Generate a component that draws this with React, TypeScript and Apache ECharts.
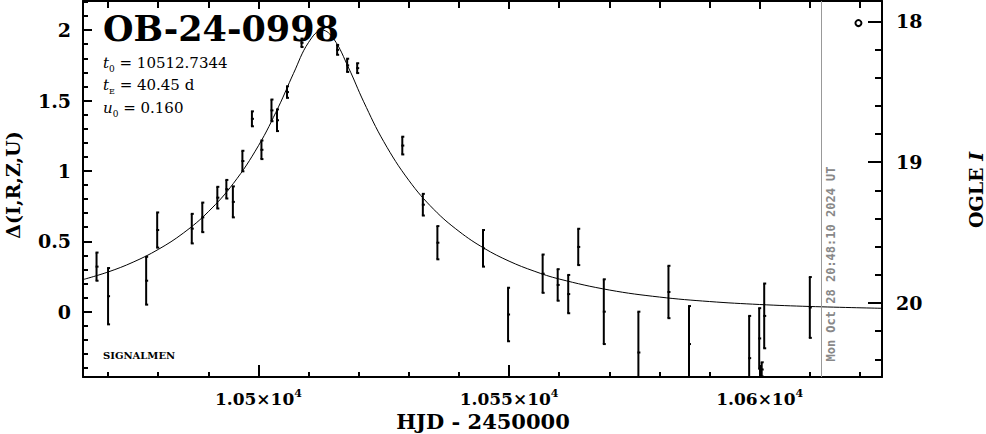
import React, { useEffect, useRef } from 'react';
import * as echarts from 'echarts';

// Photometry (HJD - 2450000, Δ mag, error)
const obsHJD = [
  10467.7, 10470.0, 10477.6, 10479.8, 10486.7, 10488.8, 10491.8, 10493.6, 10494.9, 10496.8,
  10498.7, 10500.6, 10502.6, 10503.7, 10505.7, 10508.6, 10515.7, 10517.7, 10519.7, 10528.7,
  10532.8, 10535.7, 10544.8, 10549.8, 10556.7, 10559.7, 10561.8, 10563.8, 10568.9, 10575.8,
  10581.8, 10585.9, 10597.9, 10599.9, 10600.4, 10600.9, 10610.0,
];
const obsDelta = [
  0.32, 0.11, 0.22, 0.58, 0.59, 0.67, 0.81, 0.87, 0.78, 1.07,
  1.37, 1.15, 1.43, 1.36, 1.56, 1.91, 1.86, 1.75, 1.73, 1.18,
  0.76, 0.49, 0.45, -0.02, 0.27, 0.19, 0.125, 0.46, 0.0, -0.29,
  0.14, -0.23, -0.33, -0.19, -0.41, -0.03, 0.03,
];
const obsErr = [
  0.10, 0.20, 0.17, 0.125, 0.105, 0.105, 0.077, 0.066, 0.11, 0.073,
  0.053, 0.066, 0.077, 0.077, 0.041, 0.03, 0.035, 0.047, 0.035, 0.063,
  0.077, 0.118, 0.13, 0.19, 0.136, 0.112, 0.136, 0.129, 0.23, 0.29,
  0.186, 0.27, 0.30, 0.215, 0.05, 0.23, 0.216,
];

// Model curve values
const modelHJD = [
  10465, 10470, 10475, 10480, 10485, 10490, 10495, 10500, 10504, 10507, 10510, 10512.73,
  10515, 10518, 10521, 10525, 10530, 10535, 10540, 10545, 10550, 10555, 10560, 10570,
  10580, 10590, 10600, 10610, 10624.4,
];
const modelDelta = [
  0.228, 0.282, 0.352, 0.442, 0.558, 0.710, 0.911, 1.179, 1.455, 1.693, 1.913, 2.000,
  1.939, 1.731, 1.491, 1.208, 0.933, 0.726, 0.571, 0.451, 0.359, 0.288, 0.232, 0.154,
  0.104, 0.072, 0.051, 0.037, 0.024,
];

// OGLE point (open circle)
const ogleHJD = [10619.7];
const ogleDelta = [2.05];

// Axis ranges and tick labels
const X_MIN = 10465.0;
const X_MAX = 10624.4;
const Y_MIN = -0.464;
const Y_MAX = 2.207;
const MAG_TOP = 17.855;
const MAG_BOTTOM = 20.526;
const NOW_HJD = 10612.37;

const xTickValues = [10500, 10550, 10600];
const xTickMantissa = ['1.05', '1.055', '1.06'];
const leftTickValues = [0, 0.5, 1, 1.5, 2];
const leftTickLabels = ['0', '0.5', '1', '1.5', '2'];
const rightTickValues = [18, 19, 20];
const rightTickLabels = ['18', '19', '20'];

const SERIF = '"DejaVu Serif", serif';

function findLabel(v: number, vals: number[], labels: string[]) {
  for (let i = 0; i < vals.length; i++) {
    if (Math.abs(v - vals[i]) < 1e-6) return labels[i];
  }
  return '';
}

export default function App() {
  const ref = useRef<HTMLDivElement>(null);

  useEffect(() => {
    if (!ref.current) return;
    const chart = echarts.init(ref.current, null, { renderer: 'svg' });

    const black = '#000';
    const tickStyle = { color: black, width: 2 };

    const obsData = obsHJD.map((t, i) => [t, obsDelta[i], obsErr[i]]);
    const modelData = modelHJD.map((t, i) => [t, modelDelta[i]]);
    const ogleData = ogleHJD.map((t, i) => [t, ogleDelta[i]]);

    const option: any = {
      animation: false,
      backgroundColor: '#fff',
      grid: { left: 83, top: 1, width: 799, height: 376, containLabel: false },
      xAxis: [
        {
          type: 'value',
          position: 'bottom',
          min: X_MIN,
          max: X_MAX,
          splitNumber: 3,
          axisLine: { show: true, onZero: false, lineStyle: { color: black, width: 2 } },
          axisTick: { show: true, inside: true, length: 12, lineStyle: tickStyle },
          minorTick: { show: true, splitNumber: 5, length: 5, lineStyle: tickStyle },
          splitLine: { show: false },
          axisLabel: {
            margin: 11,
            color: black,
            formatter: (v: number) => {
              const m = findLabel(v, xTickValues, xTickMantissa);
              return m ? `{n|${m}×10}{s|4}` : '';
            },
            rich: {
              n: { fontFamily: SERIF, fontWeight: 'bold', fontSize: 17, lineHeight: 21, color: black },
              s: { fontFamily: SERIF, fontWeight: 'bold', fontSize: 11, lineHeight: 13, verticalAlign: 'top', color: black },
            },
          },
        },
        {
          type: 'value',
          position: 'top',
          min: X_MIN,
          max: X_MAX,
          splitNumber: 3,
          axisLine: { show: true, onZero: false, lineStyle: { color: black, width: 2 } },
          axisTick: { show: true, inside: true, length: 8, lineStyle: tickStyle },
          minorTick: { show: true, splitNumber: 5, length: 7, lineStyle: tickStyle },
          splitLine: { show: false },
          axisLabel: { show: false },
        },
      ],
      yAxis: [
        {
          type: 'value',
          position: 'left',
          min: Y_MIN,
          max: Y_MAX,
          splitNumber: 5,
          axisLine: { show: true, onZero: false, lineStyle: { color: black, width: 2 } },
          axisTick: { show: true, inside: true, length: 9, lineStyle: tickStyle },
          minorTick: { show: true, splitNumber: 5, length: 5, lineStyle: tickStyle },
          splitLine: { show: false },
          axisLabel: {
            margin: 12,
            color: black,
            fontFamily: SERIF,
            fontWeight: 'bold',
            fontSize: 19,
            formatter: (v: number) => findLabel(v, leftTickValues, leftTickLabels),
          },
        },
        {
          type: 'value',
          position: 'right',
          inverse: true,
          min: MAG_TOP,
          max: MAG_BOTTOM,
          splitNumber: 3,
          axisLine: { show: true, onZero: false, lineStyle: { color: black, width: 2 } },
          axisTick: { show: true, inside: true, length: 14, lineStyle: tickStyle },
          minorTick: { show: true, splitNumber: 5, length: 7, lineStyle: tickStyle },
          splitLine: { show: false },
          axisLabel: {
            margin: 14,
            color: black,
            fontFamily: SERIF,
            fontWeight: 'bold',
            fontSize: 19,
            formatter: (v: number) => findLabel(v, rightTickValues, rightTickLabels),
          },
        },
      ],
      series: [
        {
          type: 'line',
          name: 'model',
          xAxisIndex: 0,
          yAxisIndex: 0,
          data: modelData,
          showSymbol: false,
          smooth: 0.4,
          clip: true,
          lineStyle: { color: black, width: 1 },
          silent: true,
          z: 3,
          markLine: {
            silent: true,
            symbol: ['none', 'none'],
            label: { show: false },
            lineStyle: { color: '#999', width: 1, type: 'solid' },
            data: [{ xAxis: NOW_HJD }],
          },
        },
        {
          type: 'custom',
          name: 'data',
          xAxisIndex: 0,
          yAxisIndex: 0,
          data: obsData,
          clip: true,
          z: 4,
          encode: { x: 0, y: 1 },
          renderItem: (params: any, api: any) => {
            const t = api.value(0);
            const d = api.value(1);
            const e = api.value(2);
            const c = api.coord([t, d]);
            const hi = api.coord([t, d + e]);
            const lo = api.coord([t, d - e]);
            const st = { stroke: black, lineWidth: 2 };
            return {
              type: 'group',
              children: [
                { type: 'line', shape: { x1: c[0], y1: hi[1], x2: c[0], y2: lo[1] }, style: st },
                { type: 'line', shape: { x1: c[0] - 1, y1: hi[1], x2: c[0] + 2, y2: hi[1] }, style: st },
                { type: 'line', shape: { x1: c[0] - 1, y1: lo[1], x2: c[0] + 2, y2: lo[1] }, style: st },
                { type: 'rect', shape: { x: c[0] - 1, y: c[1] - 1, width: 3, height: 2 }, style: { fill: black } },
              ],
            };
          },
        },
        {
          type: 'scatter',
          name: 'OGLE',
          xAxisIndex: 0,
          yAxisIndex: 0,
          data: ogleData,
          symbol: 'circle',
          symbolSize: 6,
          itemStyle: { color: '#fff', borderColor: black, borderWidth: 2, opacity: 1 },
          z: 5,
        },
      ],
      graphic: [
        {
          type: 'text',
          x: 103,
          y: 28,
          z: 1,
          style: {
            text: 'OB-24-0998',
            fill: black,
            font: `bold 35px ${SERIF}`,
            align: 'left',
            verticalAlign: 'middle',
          },
        },
        {
          type: 'text',
          x: 103,
          y: 63,
          style: {
            text: '{i|t}{b|0}{n| = 10512.7344}',
            align: 'left',
            verticalAlign: 'middle',
            rich: {
              i: { fontFamily: SERIF, fontStyle: 'italic', fontSize: 15, lineHeight: 20, fill: black },
              b: { fontFamily: SERIF, fontSize: 9, lineHeight: 10, verticalAlign: 'bottom', fill: black },
              n: { fontFamily: SERIF, fontSize: 15, lineHeight: 20, fill: black },
            },
          },
        },
        {
          type: 'text',
          x: 103,
          y: 85,
          style: {
            text: '{i|t}{b|E}{n| = 40.45 d}',
            align: 'left',
            verticalAlign: 'middle',
            rich: {
              i: { fontFamily: SERIF, fontStyle: 'italic', fontSize: 15, lineHeight: 20, fill: black },
              b: { fontFamily: SERIF, fontSize: 8, lineHeight: 10, verticalAlign: 'bottom', fill: black },
              n: { fontFamily: SERIF, fontSize: 15, lineHeight: 20, fill: black },
            },
          },
        },
        {
          type: 'text',
          x: 103,
          y: 108,
          style: {
            text: '{i|u}{b|0}{n| = 0.160}',
            align: 'left',
            verticalAlign: 'middle',
            rich: {
              i: { fontFamily: SERIF, fontStyle: 'italic', fontSize: 15, lineHeight: 20, fill: black },
              b: { fontFamily: SERIF, fontSize: 9, lineHeight: 10, verticalAlign: 'bottom', fill: black },
              n: { fontFamily: SERIF, fontSize: 15, lineHeight: 20, fill: black },
            },
          },
        },
        {
          type: 'text',
          x: 103,
          y: 355,
          style: {
            text: 'SIGNALMEN',
            fill: black,
            font: `bold 10px ${SERIF}`,
            align: 'left',
            verticalAlign: 'middle',
          },
        },
        {
          type: 'text',
          x: 13,
          y: 185,
          rotation: Math.PI / 2,
          style: {
            text: 'Δ(I,R,Z,U)',
            fill: black,
            font: `bold 19px ${SERIF}`,
            align: 'center',
            verticalAlign: 'middle',
          },
        },
        {
          type: 'text',
          x: 976,
          y: 190,
          rotation: Math.PI / 2,
          style: {
            text: '{n|OGLE }{i|I}',
            align: 'center',
            verticalAlign: 'middle',
            rich: {
              n: { fontFamily: SERIF, fontWeight: 'bold', fontSize: 19, fill: black },
              i: { fontFamily: SERIF, fontWeight: 'bold', fontStyle: 'italic', fontSize: 19, fill: black },
            },
          },
        },
        {
          type: 'text',
          x: 483,
          y: 421,
          style: {
            text: 'HJD - 2450000',
            fill: black,
            font: `bold 21px ${SERIF}`,
            align: 'center',
            verticalAlign: 'middle',
          },
        },
        {
          type: 'text',
          x: 831,
          y: 264,
          rotation: Math.PI / 2,
          z: 10,
          style: {
            text: 'Mon Oct 28 20:48:10 2024 UT',
            fill: '#888',
            font: 'bold 12px "DejaVu Sans Mono", monospace',
            align: 'center',
            verticalAlign: 'middle',
          },
        },
      ],
    };

    chart.setOption(option);
    return () => {
      chart.dispose();
    };
  }, []);

  return (
    <div
      ref={ref}
      style={{ position: 'absolute', left: 0, top: 0, width: 986, height: 434, background: '#fff' }}
    />
  );
}
